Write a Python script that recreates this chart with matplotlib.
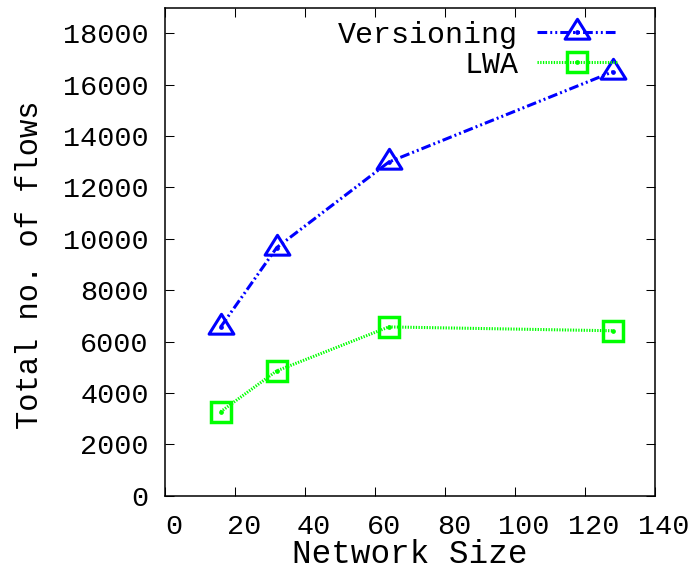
import matplotlib
matplotlib.use("Agg")
from matplotlib import pyplot as plt
from matplotlib.path import Path
from matplotlib.transforms import ScaledTranslation
import numpy as np

plt.rcParams['font.family'] = ['Liberation Mono', 'DejaVu Sans Mono']
plt.rcParams['lines.scale_dashes'] = False

# network sizes and measured flow counts
network_sizes = [16, 32, 64, 128]
versioning_flows = [6570, 9660, 12990, 16510]
lwa_flows = [3270, 4860, 6570, 6420]

x_ticks = np.arange(0, 141, 20)
y_ticks = np.arange(0, 18001, 2000)

BLUE = '#0000ff'
GREEN = '#00ff00'

# open triangle centred on its centroid (gnuplot style point)
tri = Path([(0, 1.33), (-1.25, -0.67), (1.25, -0.67), (0, 1.33)],
           [Path.MOVETO, Path.LINETO, Path.LINETO, Path.CLOSEPOLY])

fig = plt.figure(figsize=(6.89, 5.75), dpi=100)
ax = fig.add_axes([0.239, 0.138, 0.7117, 0.8486])

v_line, = ax.plot(network_sizes, versioning_flows, color=BLUE, lw=2.2,
                  dashes=(7, 2.2, 1.4, 2.2, 1.4, 2.2),
                  marker=tri, markersize=19, markerfacecolor='none',
                  markeredgecolor=BLUE, markeredgewidth=2.2)
v_dot, = ax.plot(network_sizes, versioning_flows, ls='none', marker='o',
                 markersize=2.4, color=BLUE)

l_line, = ax.plot(network_sizes, lwa_flows, color=GREEN, lw=2.2,
                  dashes=(0.95, 1.0),
                  marker='s', markersize=14.2, markerfacecolor='none',
                  markeredgecolor=GREEN, markeredgewidth=2.5)
l_dot, = ax.plot(network_sizes, lwa_flows, ls='none', marker='o',
                 markersize=2.4, color=GREEN)

ax.set_xlim(0, 140)
ax.set_ylim(0, 19000)
ax.set_xticks(x_ticks)
ax.set_yticks(y_ticks)
ax.tick_params(direction='in', length=6.5, width=0.75, top=True, right=True,
               labelsize=20.5, pad=11.5, colors='black')
ax.tick_params(axis='x', pad=13)
for s in ax.spines.values():
    s.set_linewidth(1.1)

# nudge x tick labels to the right a little
shift = ScaledTranslation(0.09, 0, fig.dpi_scale_trans)
for lab in ax.get_xticklabels():
    lab.set_transform(lab.get_transform() + shift)

ax.set_xlabel('Network Size', fontsize=23.5, va='center')
ax.xaxis.set_label_coords(0.5, -0.1215)
ax.set_ylabel('Total no. of flows', fontsize=22, va='center')
ax.yaxis.set_label_coords(-0.275, 0.473)

ax.legend([(v_line, v_dot), (l_line, l_dot)], ['Versioning', 'LWA'],
          loc='upper right', bbox_to_anchor=(0.9225, 0.973),
          markerfirst=False, frameon=False, fontsize=21.6,
          handlelength=2.67, handletextpad=0.63, borderpad=0,
          borderaxespad=0, labelspacing=0.07, numpoints=1)

fig.savefig('out.png', dpi=100)
